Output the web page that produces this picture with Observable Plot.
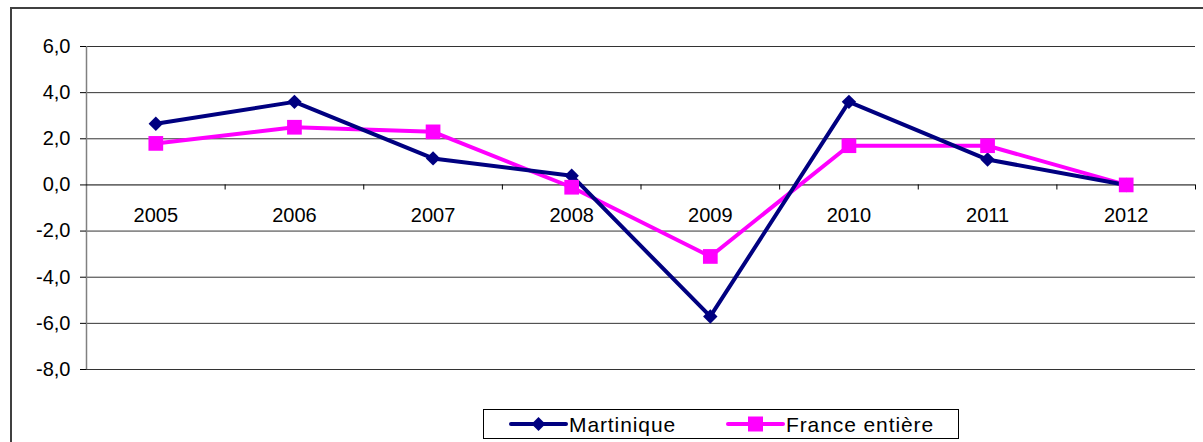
<!DOCTYPE html>
<html>
<head>
<meta charset="utf-8">
<script src="https://cdn.jsdelivr.net/npm/d3@7"></script>
<script src="https://cdn.jsdelivr.net/npm/@observablehq/plot@0.6"></script>
<style>
  html, body { margin: 0; padding: 0; background: #fff; }
  #wrap { position: relative; width: 1203px; height: 442px; overflow: hidden; }
  #frame { position: absolute; left: 10px; top: 7px; width: 1300px; height: 500px;
           border-left: 2px solid #404040; border-top: 2px solid #404040; box-sizing: border-box; }
  #legend { position: absolute; left: 483px; top: 409px; width: 476px; height: 30px;
            border: 1px solid #000; box-sizing: border-box; background: #fff; }
  #chart { position: absolute; left: 0; top: 0; }
</style>
</head>
<body>
<div id="wrap">
  <div id="frame"></div>
  <div id="chart"></div>
  <div id="legend"></div>
</div>
<script>
const years = [2005, 2006, 2007, 2008, 2009, 2010, 2011, 2012];
const martinique = [2.65, 3.6, 1.15, 0.4, -5.7, 3.6, 1.1, 0.0];
const france = [1.8, 2.5, 2.3, -0.1, -3.1, 1.7, 1.7, 0.0];
const yTicks = [-8, -6, -4, -2, 0, 2, 4, 6];
const seriesNames = ["Martinique", "France entière"];
const seriesColors = ["#000080", "#ff00ff"];

const boundaries = [...years.map(y => y - 0.5), years[years.length - 1] + 0.5];
const fmt = d => d.toFixed(1).replace(".", ",");

const mData = years.map((y, i) => ({year: y, value: martinique[i]}));
const fData = years.map((y, i) => ({year: y, value: france[i]}));

const font = "'Liberation Sans', Arial, sans-serif";

const chart = Plot.plot({
  width: 1203,
  height: 442,
  marginLeft: 86,
  marginRight: 8,
  marginTop: 46,
  marginBottom: 73,
  style: {fontFamily: font, background: "transparent", overflow: "visible"},
  x: {type: "linear", domain: [boundaries[0], boundaries[boundaries.length - 1]], axis: null},
  y: {domain: [-8, 6], axis: null},
  marks: [
    Plot.ruleY(yTicks.filter(d => d !== 0), {stroke: "#000", strokeWidth: 1, strokeOpacity: 0.8}),
    Plot.ruleX([boundaries[0]], {stroke: "#808080", strokeWidth: 1.5}),
    Plot.axisY({ticks: yTicks, tickSize: 6, tickPadding: 10, tickFormat: fmt, fontSize: 20,
                label: null, stroke: "#000", color: "#000"}),
    Plot.ruleY([0], {stroke: "#000", strokeWidth: 1}),
    Plot.ruleX(boundaries.slice(1), {y1: 0, y2: -0.22, stroke: "#000", strokeWidth: 1}),
    Plot.text(years, {x: d => d, y: 0, dy: 31, text: d => String(d), fontSize: 20, fill: "#000"}),
    Plot.line(fData, {x: "year", y: "value", stroke: seriesColors[1], strokeWidth: 4}),
    Plot.line(mData, {x: "year", y: "value", stroke: seriesColors[0], strokeWidth: 4}),
    Plot.dot(mData, {x: "year", y: "value", symbol: "diamond2", r: 6.5, fill: seriesColors[0], stroke: "none"}),
    Plot.dot(fData, {x: "year", y: "value", symbol: "square", r: 8.3, fill: seriesColors[1], stroke: "none"})
  ]
});
document.getElementById("chart").appendChild(chart);

// Legend
const leg = d3.select("#legend").append("svg")
  .attr("width", 474).attr("height", 28)
  .style("position", "absolute").style("left", "0px").style("top", "0px");
const legItems = [
  {name: seriesNames[0], color: seriesColors[0], x: 27, kind: "diamond"},
  {name: seriesNames[1], color: seriesColors[1], x: 244, kind: "square"}
];
legItems.forEach(it => {
  leg.append("line").attr("x1", it.x).attr("x2", it.x + 55).attr("y1", 14).attr("y2", 14)
    .attr("stroke", it.color).attr("stroke-width", 4).attr("stroke-linecap", "round");
  const cx = it.x + 27.5;
  if (it.kind === "diamond") {
    leg.append("path").attr("d", `M${cx},7L${cx + 7},14L${cx},21L${cx - 7},14Z`).attr("fill", it.color);
  } else {
    leg.append("rect").attr("x", cx - 7.5).attr("y", 6.5).attr("width", 15).attr("height", 15).attr("fill", it.color);
  }
  leg.append("text").attr("x", it.x + 58).attr("y", 21.5).attr("font-family", font)
    .attr("font-size", 21).attr("letter-spacing", "0.9px").attr("fill", "#000").text(it.name);
});
</script>
</body>
</html>
